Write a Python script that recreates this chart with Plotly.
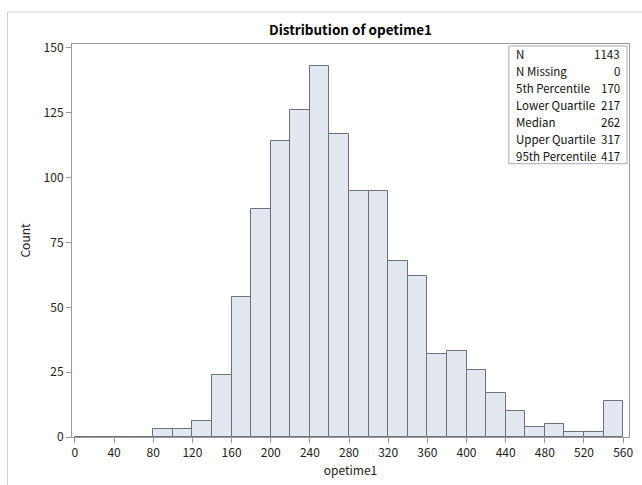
import plotly.graph_objects as go

# ---- data ----
bin_starts = list(range(0, 560, 20))
counts = [0, 0, 0, 0, 3, 3, 6, 24, 54, 88, 114, 126, 143, 117, 95, 95,
          68, 62, 32, 33, 26, 17, 10, 4, 5, 2, 2, 14]
bin_width = 20
stat_labels = ["N", "N Missing", "5th Percentile", "Lower Quartile",
               "Median", "Upper Quartile", "95th Percentile"]
stat_values = ["1143", "0", "170", "217", "262", "317", "417"]
x_ticks = list(range(0, 561, 40))
y_ticks = [0, 25, 50, 75, 100, 125, 150]

W, H = 642, 485
L, R, T, B = 72, 633, 44, 438   # plot area in pixels


def px(x):
    return (x - L) / (R - L)


def py(y):
    return (B - y) / (B - T)


FONT = "Noto Sans CJK JP"
centers = [s + bin_width / 2 for s in bin_starts]

fig = go.Figure()
fig.add_trace(go.Bar(
    x=centers, y=counts, width=[bin_width] * len(counts),
    marker=dict(color="#E2E7F0", line=dict(color="#6C727C", width=1)),
    hoverinfo="x+y",
))

shapes = []
# outer frame (left and top)
shapes.append(dict(type="line", xref="paper", yref="paper",
                   x0=px(7), x1=px(7), y0=py(12), y1=py(H + 5),
                   line=dict(color="#CFCFCF", width=1)))
shapes.append(dict(type="line", xref="paper", yref="paper",
                   x0=px(7), x1=px(W + 5), y0=py(12), y1=py(12),
                   line=dict(color="#CFCFCF", width=1)))
# stats box
shapes.append(dict(type="rect", xref="paper", yref="paper",
                   x0=px(512), x1=px(631), y0=py(164), y1=py(46),
                   line=dict(color="#A8A8A8", width=1), fillcolor="white"))

annotations = []
row_h = 17
for i, (lab, val) in enumerate(zip(stat_labels, stat_values)):
    yc = 54.5 + i * row_h
    annotations.append(dict(xref="paper", yref="paper", x=px(517), y=py(yc),
                            text=lab, showarrow=False, xanchor="left",
                            yanchor="middle",
                            font=dict(family=FONT, size=11.5, color="#111111")))
    annotations.append(dict(xref="paper", yref="paper", x=px(626), y=py(yc),
                            text=val, showarrow=False, xanchor="right",
                            yanchor="middle",
                            font=dict(family=FONT, size=11.5, color="#111111")))

fig.update_layout(
    width=W, height=H,
    margin=dict(l=L, r=W - R, t=T, b=H - B, pad=0),
    paper_bgcolor="white", plot_bgcolor="white",
    showlegend=False,
    bargap=0,
    title=dict(text="<b>Distribution of opetime1</b>",
               x=px(352.5), xref="paper", xanchor="center",
               y=1 - 30 / H, yref="container", yanchor="middle",
               font=dict(family=FONT, size=13.5, color="#000000")),
    shapes=shapes,
    annotations=annotations,
    font=dict(family=FONT, size=12, color="#222222"),
)

fig.update_xaxes(
    range=[-3, 566], tickvals=x_ticks, ticktext=[str(v) for v in x_ticks],
    showgrid=False, zeroline=False,
    showline=True, linecolor="#9A9A9A", linewidth=1, mirror=True,
    ticks="outside", ticklen=5, tickcolor="#9A9A9A",
    tickfont=dict(family=FONT, size=12, color="#222222"),
    title=dict(text="opetime1", standoff=7,
               font=dict(family=FONT, size=12, color="#222222")),
)
fig.update_yaxes(
    range=[0, 151.5], tickvals=y_ticks, ticktext=[str(v) for v in y_ticks],
    showgrid=False, zeroline=False,
    showline=True, linecolor="#9A9A9A", linewidth=1, mirror=True,
    ticks="outside", ticklen=5, tickcolor="#9A9A9A",
    tickfont=dict(family=FONT, size=12, color="#222222"),
    title=dict(text="Count", standoff=10,
               font=dict(family=FONT, size=12, color="#222222")),
)

fig.write_html(
    "out.html",
    config={"displayModeBar": False},
    post_script="document.body.style.margin='0';"
                "document.body.style.overflow='hidden';",
)
